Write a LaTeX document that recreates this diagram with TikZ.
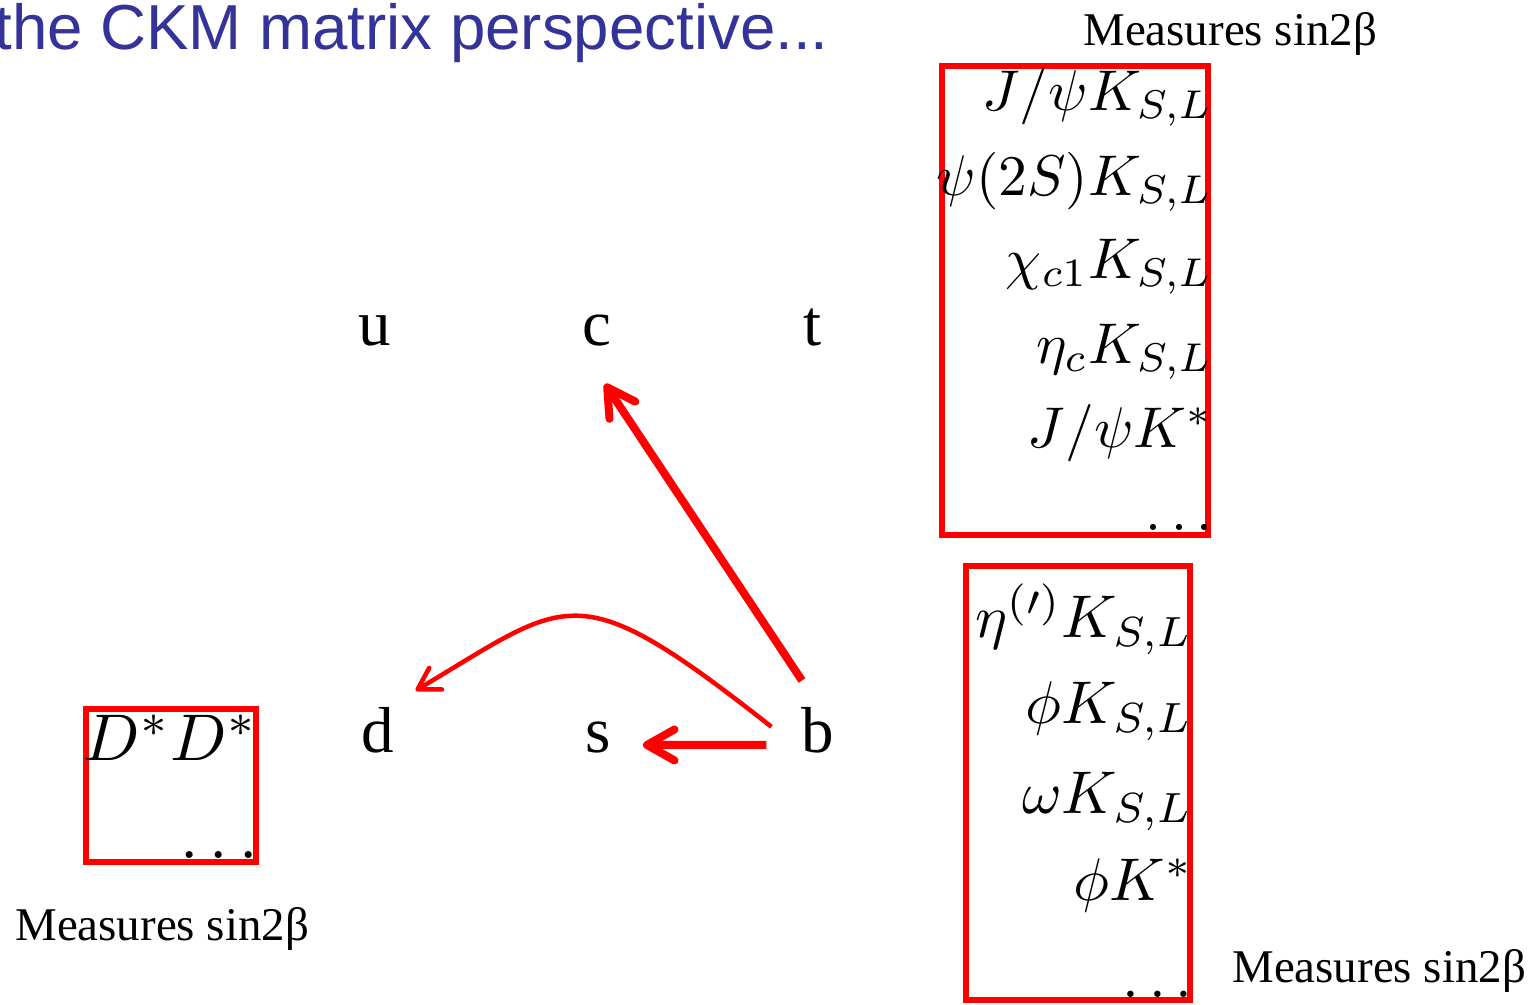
\documentclass[tikz,border=0pt]{standalone}
\usepackage{fontspec}
\setmainfont{Liberation Serif}
\newfontfamily\titlefont{Liberation Sans}
\usetikzlibrary{arrows.meta, positioning, calc}
\definecolor{ckmblue}{HTML}{333399}
\definecolor{ckmred}{HTML}{FF0000}

\tikzset{
    quark/.style={inner sep=0pt, anchor=base, font=\fontsize{37}{40}\selectfont},
    decay/.style={inner sep=0pt, anchor=base east, scale=3.27, transform shape},
    measure/.style={inner sep=0pt, anchor=base west, font=\fontsize{26.7}{30}\selectfont},
    redbox/.style={draw=ckmred, line width=0.11cm, inner sep=0pt},
    bigarrow/.style={-{Straight Barb[length=0.55cm, width=0.62cm, round]}, line width=0.16cm, ckmred},
    thinarrow/.style={-{Straight Barb[length=0.42cm, width=0.5cm, round]}, line width=0.09cm, ckmred}
}

\begin{document}
\begin{tikzpicture}[x=0.02cm, y=-0.02cm]
    \useasboundingbox (0,0) rectangle (1538,1004);

    % title
    \node[inner sep=0pt, anchor=base west, text=ckmblue, font=\titlefont\fontsize{36.2}{40}\selectfont] (title) at (-6,50) {the CKM matrix perspective...};

    % quarks
    \node[quark] (qu) at (375,345) {u};
    \node[quark] (qc) at (597,345) {c};
    \node[quark] (qt) at (813,345) {t};
    \node[quark] (qd) at (378,752) {d};
    \node[quark] (qs) at (598,752) {s};
    \node[quark] (qb) at (818,752) {b};

    % boxes
    \node[redbox, minimum width=5.32cm, minimum height=9.38cm] (ccsbox) at (1075,300.5) {};
    \node[redbox, minimum width=4.48cm, minimum height=8.68cm] (sssbox) at (1078,783) {};
    \node[redbox, minimum width=3.40cm, minimum height=3.06cm] (ccdbox) at (171,785.5) {};

    % b -> c c s
    \node[decay] (jpsiks) at (1214,110) {$J/\psi K_{S,L}$};
    \node[decay] (psiks) at (1214,195) {$\psi(2S)K_{S,L}$};
    \node[decay] (chiks) at (1214,278) {$\chi_{c1}K_{S,L}$};
    \node[decay] (etaks) at (1214,363) {$\eta_c K_{S,L}$};
    \node[decay] (jpsikst) at (1214,447) {$J/\psi K^*$};
    \node[decay] (ccsdots) at (1214,530) {$\ldots$};

    % b -> s s s
    \begin{scope}[every node/.append style={scale=1.05}]
    \node[decay] (etapks) at (1194,637) {$\eta^{(\prime)}K_{S,L}$};
    \node[decay] (phiks) at (1194,723) {$\phi K_{S,L}$};
    \node[decay] (omks) at (1194,813) {$\omega K_{S,L}$};
    \node[decay] (phikst) at (1194,900) {$\phi K^*$};
    \node[decay] (sssdots) at (1194,997) {$\ldots$};
    \end{scope}

    % b -> c c d
    \begin{scope}[every node/.append style={scale=1.15}]
    \node[decay] (dstdst) at (259,760) {$D^*D^*$};
    \node[decay] (ccddots) at (259,858) {$\ldots$};
    \end{scope}

    % labels
    \node[measure] (measccs) at (1083,45) {Measures sin2β};
    \node[measure] (measccd) at (15,940) {Measures sin2β};
    \node[measure] (meassss) at (1232,982) {Measures sin2β};

    % transitions
    \draw[bigarrow] ($(qb.north)+(-16,-26)$) -- ($(qc.south)+(8,38)$);
    \draw[bigarrow] ($(qb.west)+(-35,15)$) -- ($(qs.east)+(32,8)$);
    \draw[thinarrow] ($(qb.west)+(-30,-3)$) .. controls +(-197,-155) and +(155,-92) .. ($(qd.north east)+(21,-16)$);
\end{tikzpicture}
\end{document}
